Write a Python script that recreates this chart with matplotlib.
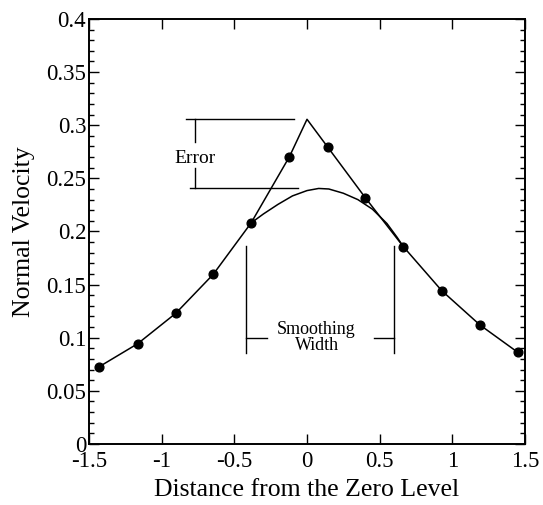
import matplotlib
matplotlib.use("Agg")
import matplotlib.pyplot as plt
from matplotlib.ticker import MultipleLocator, FixedLocator

plt.rcParams['font.family'] = ['Liberation Serif', 'DejaVu Serif']
plt.rcParams['axes.unicode_minus'] = False

# Sampled normal velocity along the level-set normal
sample_x = [-1.429, -1.165, -0.903, -0.645, -0.385, -0.121,
            0.142, 0.401, 0.663, 0.927, 1.190, 1.450]
sample_v = [0.0728, 0.0944, 0.1230, 0.1597, 0.2080, 0.2704,
            0.2795, 0.2318, 0.1857, 0.1443, 0.1120, 0.0863]

# Kink of the unsmoothed velocity at the zero level
kink_x = 0.0
kink_v = 0.3056

# Smoothed velocity across the smoothing band
smooth_x = [-0.385, -0.30, -0.20, -0.10, 0.00, 0.08, 0.15,
            0.25, 0.35, 0.45, 0.55, 0.62, 0.663]
smooth_v = [0.2080, 0.2165, 0.2255, 0.2335, 0.2385, 0.2405, 0.2400,
            0.2360, 0.2300, 0.2210, 0.2075, 0.1945, 0.1857]

x_ticks = [-1.5, -1.0, -0.5, 0.0, 0.5, 1.0, 1.5]
x_tick_labels = ['-1.5', '-1', '-0.5', '0', '0.5', '1', '1.5']
y_ticks = [0.0, 0.05, 0.10, 0.15, 0.20, 0.25, 0.30, 0.35, 0.40]
y_tick_labels = ['0', '0.05', '0.1', '0.15', '0.2', '0.25', '0.3', '0.35', '0.4']

fig = plt.figure(figsize=(5.43, 5.05), dpi=100)
ax = fig.add_axes([0.1639, 0.1208, 0.8030, 0.8416])

# Polyline through the samples with the kink inserted
line_x = [x for x in sample_x if x < kink_x] + [kink_x] + [x for x in sample_x if x > kink_x]
line_v = [v for x, v in zip(sample_x, sample_v) if x < kink_x] + [kink_v] + \
         [v for x, v in zip(sample_x, sample_v) if x > kink_x]
ax.plot(line_x, line_v, color='black', lw=1.1, zorder=3)
ax.plot(smooth_x, smooth_v, color='black', lw=1.1, zorder=3)
ax.plot(sample_x, sample_v, 'o', color='black', ms=6.3, zorder=4, clip_on=False)

ann = dict(color='black', lw=1.0)
# Error bracket
ax.plot([-0.835, -0.09], [kink_v, kink_v], **ann)
ax.plot([-0.805, -0.06], [0.2407, 0.2407], **ann)
ax.plot([-0.77, -0.77], [kink_v, 0.2845], **ann)
ax.plot([-0.77, -0.77], [0.2595, 0.2407], **ann)
ax.text(-0.77, 0.2685, 'Error', ha='center', va='center', fontsize=14)

# Smoothing width bracket
ax.plot([-0.422, -0.422], [0.186, 0.0853], **ann)
ax.plot([-0.422, -0.277], [0.0995, 0.0995], **ann)
ax.plot([0.601, 0.601], [0.186, 0.0853], **ann)
ax.plot([0.463, 0.601], [0.0995, 0.0995], **ann)
ax.text(0.066, 0.1005, 'Smoothing\nWidth', ha='center', va='center',
        fontsize=13, linespacing=0.93)

ax.set_xlim(-1.5, 1.5)
ax.set_ylim(0, 0.4)
ax.xaxis.set_major_locator(FixedLocator(x_ticks))
ax.set_xticklabels(x_tick_labels)
ax.yaxis.set_major_locator(FixedLocator(y_ticks))
ax.set_yticklabels(y_tick_labels)
ax.yaxis.set_minor_locator(MultipleLocator(0.01))

ax.tick_params(which='both', direction='in', top=True, right=True,
               width=1.0, labelsize=16.5)
ax.tick_params(which='major', length=7)
ax.tick_params(which='minor', length=3.5)
ax.tick_params(axis='x', pad=5)
ax.tick_params(axis='y', pad=2)
for s in ax.spines.values():
    s.set_linewidth(1.4)

ax.set_xlabel('Distance from the Zero Level', fontsize=18.5, labelpad=5)
ax.set_ylabel('Normal Velocity', fontsize=18.5, labelpad=8)

fig.savefig('out.png', dpi=100)
